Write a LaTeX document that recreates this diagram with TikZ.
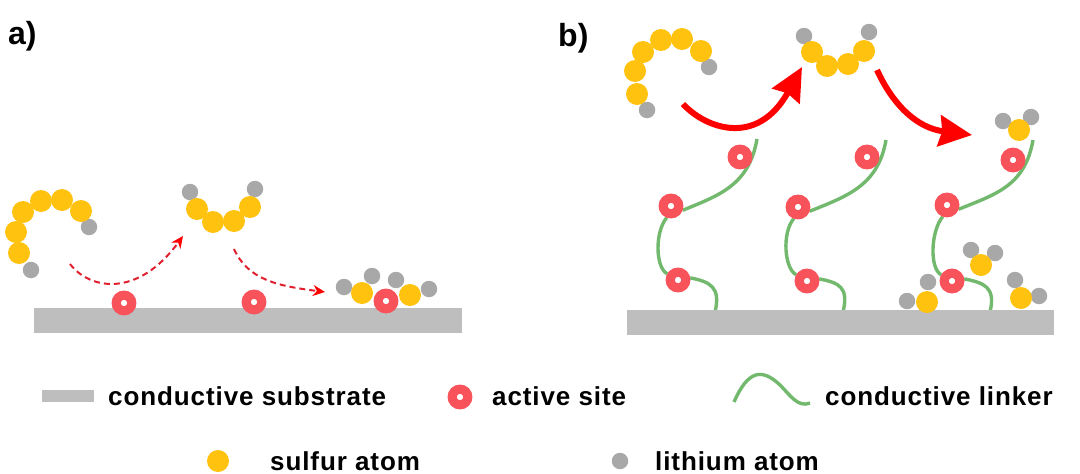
\documentclass[tikz,border=0pt]{standalone}
\usepackage{fontspec}
\setmainfont{Liberation Sans}
\newfontfamily\keyfont[LetterSpace=3.5]{Liberation Sans}
\usetikzlibrary{arrows.meta,backgrounds}
\definecolor{sulfurcol}{HTML}{FFC20E}
\definecolor{lithiumcol}{HTML}{A8A8A8}
\definecolor{substratecol}{HTML}{BEBEBE}
\definecolor{sitecol}{HTML}{F8525A}
\definecolor{linkercol}{HTML}{72B96E}
\definecolor{dashcol}{HTML}{E0202E}
\tikzset{
  sulfur/.style={circle,fill=sulfurcol,minimum size=22pt,inner sep=0pt},
  lithium/.style={circle,fill=lithiumcol,minimum size=16.5pt,inner sep=0pt},
  site/.style={circle,draw=sitecol,fill=white,line width=9.2pt,minimum size=15.6pt,inner sep=0pt},
  substrate/.style={fill=substratecol,minimum height=25pt,inner sep=0pt},
  linker/.style={draw=linkercol,line width=3.4pt},
  thinarrow/.style={draw=dashcol,line width=2pt,dash pattern=on 6pt off 4pt,-{Stealth[length=12pt,width=11pt,red]}},
  bigarrow/.style={draw=red,line width=6pt,-{Stealth[length=33pt,width=31pt,inset=3pt]}},
  legend/.style={anchor=west,font=\keyfont\bfseries\fontsize{26}{28}\selectfont,inner sep=0pt},
  panel/.style={anchor=west,font=\bfseries\fontsize{32}{34}\selectfont,inner sep=0pt}
}
\begin{document}
\begin{tikzpicture}[x=1pt,y=-1pt]
    \useasboundingbox (0,0) rectangle (1080,474);

    \node[panel] (labelA) at (8,36) {a)};
    \node[panel] (labelB) at (558,38) {b)};

    % substrates
    \node[substrate,minimum width=428pt] (subA) at (248,320.5) {};
    \node[substrate,minimum width=427pt] (subB) at (840.5,322.5) {};

    % panel a: long chain
    \node[lithium] (liA1) at (31,270) {};
    \node[lithium] (liA2) at (89,227) {};
    \node[sulfur] (sA1) at (19,253) {};
    \node[sulfur] (sA2) at (16,232) {};
    \node[sulfur] (sA3) at (23,212) {};
    \node[sulfur] (sA4) at (41,201) {};
    \node[sulfur] (sA5) at (62,200) {};
    \node[sulfur] (sA6) at (81,211) {};

    % panel a: short chain
    \node[lithium] (liA3) at (190,192) {};
    \node[lithium] (liA4) at (255,189) {};
    \node[sulfur] (sA7) at (197,209) {};
    \node[sulfur] (sA8) at (213,222) {};
    \node[sulfur] (sA9) at (234,221) {};
    \node[sulfur] (sA10) at (250,207) {};

    % panel a: on the substrate
    \node[lithium] (liA5) at (344,287) {};
    \node[lithium] (liA6) at (372,276) {};
    \node[lithium] (liA7) at (396,280) {};
    \node[lithium] (liA8) at (429,289) {};
    \node[sulfur] (sA11) at (362,293) {};
    \node[sulfur] (sA12) at (410,295) {};
    \node[site] (siteA1) at (124,303) {};
    \node[site] (siteA2) at (254,302) {};
    \node[site] (siteA3) at (386,301) {};

    \coordinate (dashA) at (70,264);
    \coordinate (dashB) at (183,236);
    \coordinate (dashC) at (234,249);
    \coordinate (dashD) at (325,292);
    \draw[thinarrow] (dashA) .. controls (90,290) and (138,298) .. (dashB);
    \draw[thinarrow] (dashC) .. controls (248,280) and (278,286) .. (dashD);

    % panel b: chains
    \node[lithium] (liB1) at (647,110) {};
    \node[lithium] (liB2) at (709,67) {};
    \node[sulfur] (sB1) at (637,94) {};
    \node[sulfur] (sB2) at (635,71) {};
    \node[sulfur] (sB3) at (643,52) {};
    \node[sulfur] (sB4) at (661,40) {};
    \node[sulfur] (sB5) at (682,39) {};
    \node[sulfur] (sB6) at (701,51) {};

    \node[lithium] (liB3) at (804,36) {};
    \node[lithium] (liB4) at (869,32) {};
    \node[sulfur] (sB7) at (812,52) {};
    \node[sulfur] (sB8) at (827,66) {};
    \node[sulfur] (sB9) at (848,64) {};
    \node[sulfur] (sB10) at (864,51) {};

    % panel b: small clusters
    \node[lithium] (liB5) at (1003,121) {};
    \node[lithium] (liB6) at (1031,117) {};
    \node[sulfur] (sB11) at (1019,130) {};
    \node[lithium] (liB7) at (971,250) {};
    \node[lithium] (liB8) at (995,253) {};
    \node[sulfur] (sB12) at (981,265) {};
    \node[lithium] (liB9) at (928,282) {};
    \node[lithium] (liB10) at (907,301) {};
    \node[sulfur] (sB13) at (927,302) {};
    \node[lithium] (liB11) at (1015,280) {};
    \node[lithium] (liB12) at (1039,296) {};
    \node[sulfur] (sB14) at (1021,298) {};

    % panel b: active sites
    \node[site] (topA) at (740,157) {};
    \node[site] (topB) at (867,157) {};
    \node[site] (topC) at (1013,160) {};
    \node[site] (midA) at (671,206) {};
    \node[site] (midB) at (798,207) {};
    \node[site] (midC) at (947,205) {};
    \node[site] (lowA) at (678,280) {};
    \node[site] (lowB) at (807,281) {};
    \node[site] (lowC) at (952,281) {};

    % panel b: linkers
    \coordinate (headA) at (757,139);
    \coordinate (headB) at (886,140);
    \coordinate (headC) at (1033,140);
    \coordinate (footA) at (715,312);
    \coordinate (footB) at (843,312);
    \coordinate (footC) at (990,312);
    \begin{scope}[on background layer]
        \draw[linker] (headA) .. controls +(-8,46) and +(37,-15) .. (midA.340);
        \draw[linker] (midA.250) .. controls +(-12,14) and +(-12,-6) .. (lowA.150);
        \draw[linker] (lowA.10) .. controls +(20,4) and +(6,-25) .. (footA);
        \draw[linker] (headB) .. controls +(-8,46) and +(37,-15) .. (midB.340);
        \draw[linker] (midB.250) .. controls +(-12,14) and +(-12,-6) .. (lowB.150);
        \draw[linker] (lowB.10) .. controls +(20,4) and +(6,-25) .. (footB);
        \draw[linker] (headC) .. controls +(-8,46) and +(37,-15) .. (midC.340);
        \draw[linker] (midC.250) .. controls +(-12,14) and +(-12,-6) .. (lowC.150);
        \draw[linker] (lowC.10) .. controls +(20,4) and +(6,-25) .. (footC);
    \end{scope}

    \coordinate (boldA) at (683,104);
    \coordinate (boldB) at (802,67);
    \coordinate (boldC) at (877,70);
    \coordinate (boldD) at (972,135);
    \draw[bigarrow] (boldA) .. controls (705,128) and (757,148) .. (boldB);
    \draw[bigarrow] (boldC) .. controls (893,105) and (917,128) .. (boldD);

    % legend
    \node[substrate,minimum width=52pt,minimum height=12pt] (keySub) at (68,396) {};
    \node[legend] (textSub) at (108,396) {conductive substrate};
    \node[site] (keySite) at (460,397) {};
    \node[legend] (textSite) at (492,396) {active site};
    \coordinate (keyLinkA) at (734,402);
    \coordinate (keyLinkB) at (810,403);
    \draw[linker] (keyLinkA) .. controls (748,370) and (762,368) .. (780,385) .. controls (790,395) and (798,408) .. (keyLinkB);
    \node[legend] (textLink) at (825,396) {conductive linker};
    \node[sulfur] (keyS) at (218,461) {};
    \node[legend] (textS) at (270,461) {sulfur atom};
    \node[lithium] (keyLi) at (620,461) {};
    \node[legend] (textLi) at (655,461) {lithium atom};
\end{tikzpicture}
\end{document}
